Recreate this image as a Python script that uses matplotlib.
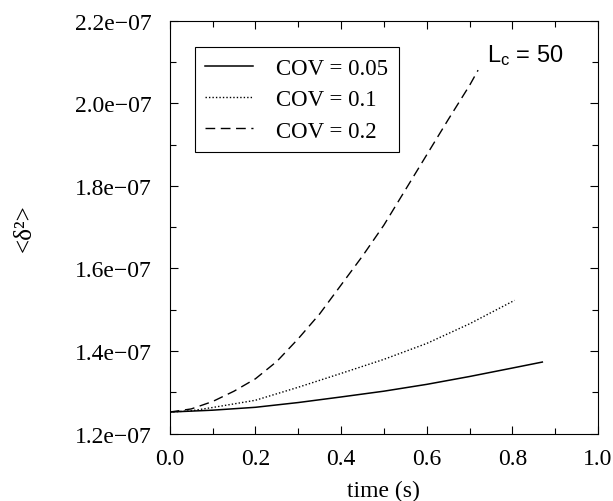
import matplotlib
matplotlib.use("Agg")
import matplotlib.pyplot as plt
from matplotlib.ticker import MultipleLocator, FormatStrFormatter

plt.rcParams['font.family'] = ['Liberation Serif', 'DejaVu Serif']
plt.rcParams['mathtext.fontset'] = 'custom'
plt.rcParams['mathtext.rm'] = 'Liberation Sans'
plt.rcParams['mathtext.it'] = 'Liberation Sans'

# time (s) and <delta^2> values (units of 1e-7)
t_005 = [0.0, 0.1, 0.2, 0.3, 0.4, 0.5, 0.6, 0.7, 0.8, 0.87]
d_005 = [1.2525, 1.2570, 1.2640, 1.2755, 1.2890, 1.3030, 1.3195, 1.3385, 1.3590, 1.3735]

t_01 = [0.0, 0.05, 0.1, 0.2, 0.3, 0.4, 0.5, 0.6, 0.7, 0.805]
d_01 = [1.2525, 1.2555, 1.2635, 1.2810, 1.3125, 1.3460, 1.3800, 1.4185, 1.4660, 1.5228]

t_02 = [0.0, 0.05, 0.1, 0.15, 0.2, 0.25, 0.3, 0.35, 0.4, 0.45, 0.5,
        0.55, 0.6, 0.65, 0.7, 0.72]
d_02 = [1.2525, 1.2600, 1.2780, 1.3030, 1.3330, 1.3750, 1.4300, 1.4900,
        1.5600, 1.6300, 1.7050, 1.7900, 1.8750, 1.9600, 2.0430, 2.0800]

labels = ['COV = 0.05', 'COV = 0.1', 'COV = 0.2']

fig = plt.figure(figsize=(6.13, 5.02), dpi=100)
ax = fig.add_axes([0.277, 0.134, 0.6985, 0.823])

sc = 1e-7
ax.plot(t_005, [v * sc for v in d_005], color='black', lw=1.1, label=labels[0])
ax.plot(t_01, [v * sc for v in d_01], color='black', lw=1.0, dashes=(1, 1.5), label=labels[1])
ax.plot(t_02, [v * sc for v in d_02], color='black', lw=1.0, dashes=(7, 4), label=labels[2])

ax.set_xlim(0, 1.0)
ax.set_ylim(1.2e-7, 2.2e-7)
ax.xaxis.set_major_locator(MultipleLocator(0.2))
ax.xaxis.set_minor_locator(MultipleLocator(0.1))
ax.yaxis.set_major_locator(MultipleLocator(0.2e-7))
ax.yaxis.set_minor_locator(MultipleLocator(0.1e-7))
ax.xaxis.set_major_formatter(FormatStrFormatter('%.1f'))
ax.yaxis.set_major_formatter(plt.FuncFormatter(
    lambda v, p: ('%.1e' % v).replace('-', '\u2212')))
ax.tick_params(which='both', direction='in', top=True, right=True,
               labelsize=17, width=0.8)
ax.tick_params(which='major', length=6)
ax.tick_params(which='minor', length=4)
ax.tick_params(axis='y', which='major', pad=13)
ax.tick_params(axis='x', which='major', pad=10)
for s in ax.spines.values():
    s.set_linewidth(0.8)

ax.set_xlabel('time (s)', fontsize=17, labelpad=8)
ax.set_ylabel('<\u03b4\u00b2>', fontsize=18, labelpad=28)

leg = ax.legend(loc='upper left', bbox_to_anchor=(0.0585, 0.935),
                borderaxespad=0, fontsize=16.5, handlelength=2.1,
                labelspacing=0.45, fancybox=False, framealpha=1,
                edgecolor='black', borderpad=0.45, handletextpad=1.0)
leg.get_frame().set_linewidth(0.8)

ax.text(0.74, 0.918, r'L$_\mathrm{c}$ = 50', transform=ax.transAxes,
        fontsize=17, family='Liberation Sans', ha='left', va='center')

fig.savefig('out.png', dpi=100)
